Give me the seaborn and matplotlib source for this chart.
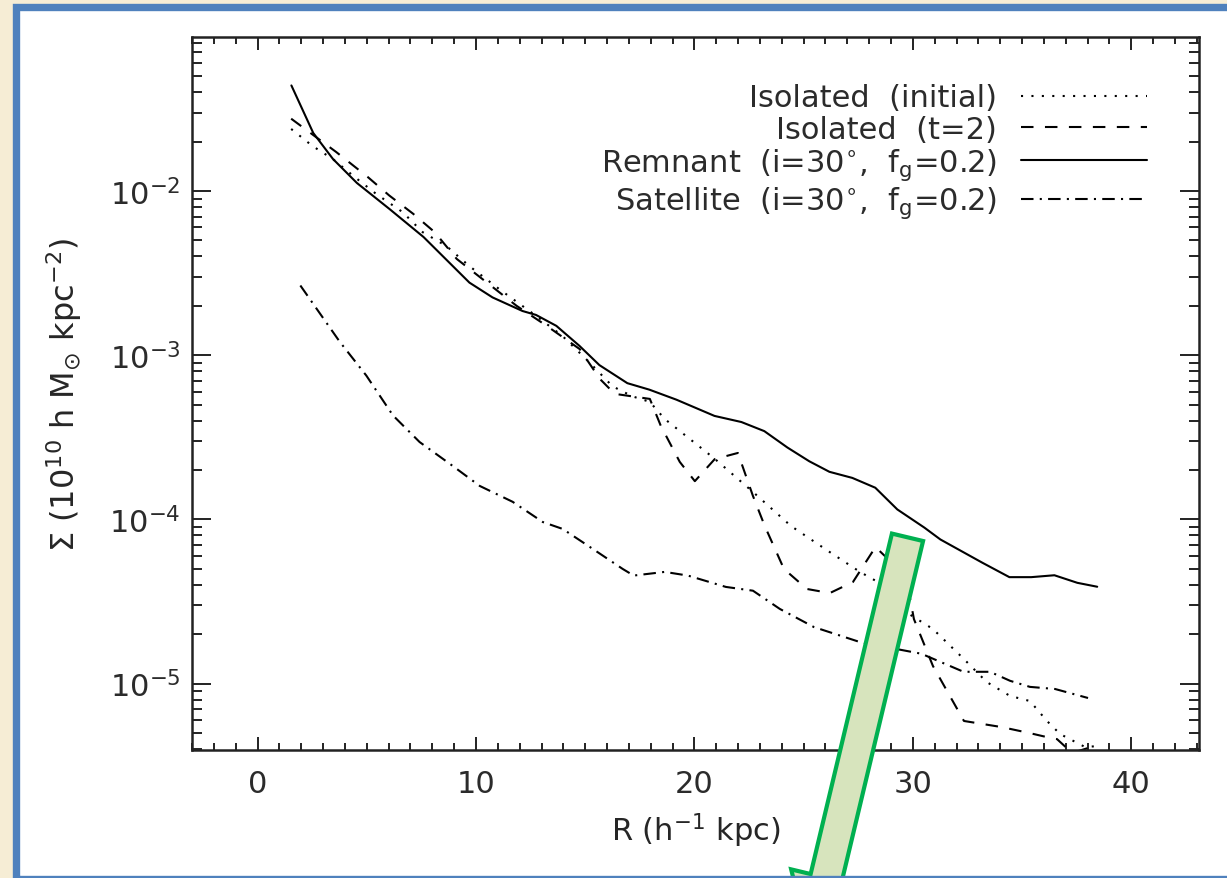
import numpy as np
import pandas as pd
import matplotlib
matplotlib.use("Agg")
import matplotlib.pyplot as plt
import seaborn as sns
from matplotlib.patches import Rectangle, FancyArrow
from matplotlib.ticker import MultipleLocator, LogLocator, NullFormatter

# ---------------- data ----------------
remnant_r = [1.55, 2.55, 3.45, 4.55, 6.05, 7.6, 9.7, 10.76, 12.13, 12.75, 13.68, 14.74,
             15.65, 16.93, 17.94, 19.18, 20.92, 22.15, 23.2, 24.26, 25.26, 26.18, 27.23,
             28.28, 29.29, 30.53, 31.26, 33.18, 34.42, 35.42, 36.48, 37.53, 38.44]
remnant_sigma = [4.40e-2, 2.26e-2, 1.57e-2, 1.12e-2, 7.76e-3, 5.25e-3, 2.77e-3, 2.25e-3,
                 1.86e-3, 1.76e-3, 1.51e-3, 1.14e-3, 8.71e-4, 6.76e-4, 6.17e-4, 5.36e-4,
                 4.27e-4, 3.92e-4, 3.45e-4, 2.74e-4, 2.26e-4, 1.95e-4, 1.79e-4, 1.56e-4,
                 1.15e-4, 8.91e-5, 7.55e-5, 5.45e-5, 4.45e-5, 4.45e-5, 4.57e-5, 4.11e-5, 3.89e-5]

initial_r = [1.54, 2.52, 3.44, 4.44, 5.44, 6.64, 7.56, 8.65, 9.7, 11.08, 12.77, 13.96,
             15.19, 16.25, 17.16, 17.96, 18.64, 20.93, 22.68, 24.42, 26.2, 27.58, 28.31,
             29.68, 30.92, 32.34, 33.39, 34.45, 35.36, 36.14, 36.74, 37.88, 38.57]
initial_sigma = [2.39e-2, 1.88e-2, 1.57e-2, 1.22e-2, 9.59e-3, 7.45e-3, 5.62e-3, 4.62e-3,
                 3.49e-3, 2.52e-3, 1.73e-3, 1.31e-3, 9.06e-4, 6.47e-4, 5.62e-4, 5.20e-4,
                 4.09e-4, 2.34e-4, 1.47e-4, 9.12e-5, 6.32e-5, 4.79e-5, 4.22e-5, 2.73e-5,
                 2.15e-5, 1.41e-5, 1.02e-5, 8.41e-6, 7.83e-6, 5.92e-6, 4.93e-6, 4.11e-6, 4.17e-6]

t2_r = [1.54, 3.6, 5.04, 6.03, 7.12, 8.11, 9.12, 11.86, 13.24, 14.75, 15.67, 16.35, 17.96,
        18.46, 19.33, 20.02, 20.93, 21.99, 22.68, 23.22, 24.1, 25.15, 26.2, 27.26, 28.29,
        29.0, 29.68, 30.05, 30.92, 32.34, 34.08, 35.36, 36.14, 36.6, 37.1, 37.43, 38.02]
t2_sigma = [2.76e-2, 1.73e-2, 1.22e-2, 9.40e-3, 7.28e-3, 5.62e-3, 3.86e-3, 2.00e-3, 1.51e-3,
            1.09e-3, 7.18e-4, 5.82e-4, 5.42e-4, 3.72e-4, 2.24e-4, 1.71e-4, 2.33e-4, 2.54e-4,
            1.39e-4, 9.12e-5, 4.99e-5, 3.77e-5, 3.56e-5, 4.16e-5, 6.79e-5, 5.51e-5, 4.52e-5,
            2.47e-5, 1.28e-5, 5.92e-6, 5.43e-6, 4.99e-6, 4.72e-6, 4.59e-6, 3.99e-6, 3.83e-6, 4.05e-6]

satellite_r = [1.96, 3.76, 4.98, 6.2, 7.42, 8.93, 10.17, 11.68, 13.06, 13.97, 15.35, 16.72,
               17.22, 18.64, 19.7, 21.44, 22.68, 23.91, 25.47, 27.58, 30.39, 32.32, 33.53,
               34.45, 35.36, 36.51, 38.02]
satellite_sigma = [2.66e-3, 1.21e-3, 7.52e-4, 4.30e-4, 2.96e-4, 2.12e-4, 1.60e-4, 1.28e-4,
                   9.64e-5, 8.75e-5, 6.61e-5, 4.99e-5, 4.55e-5, 4.79e-5, 4.55e-5, 3.88e-5,
                   3.68e-5, 2.85e-5, 2.21e-5, 1.79e-5, 1.52e-5, 1.18e-5, 1.18e-5, 1.04e-5,
                   9.55e-6, 9.27e-6, 8.17e-6]

labels = ["Isolated  (initial)",
          "Isolated  (t=2)",
          r"Remnant  (i=30$^{\circ}$,  f$_{\rm g}$=0.2)",
          r"Satellite  (i=30$^{\circ}$,  f$_{\rm g}$=0.2)"]
x_ticks = [0, 10, 20, 30, 40]

# ---------------- style ----------------
sns.set_theme(style="white")
plt.rcParams["font.family"] = ["DejaVu Sans"]
plt.rcParams["mathtext.fontset"] = "dejavusans"
plt.rcParams["text.color"] = "#2b2b2b"

W, H = 1227, 879
fig = plt.figure(figsize=(W / 100, H / 100), dpi=100)
fig.patch.set_facecolor("#F6EDD5")

# slide frame: white panel
fig.patches.append(Rectangle((15.7 / W, -1.0 / H), (1240 - 15.7) / W, (879 - 7.5 + 1) / H,
                             transform=fig.transFigure, facecolor="white", edgecolor="none",
                             zorder=-5))

ax = fig.add_axes([192 / W, 1 - 751 / H, (1199 - 192) / W, (751 - 38) / H])
ax.set_facecolor("none")

data = pd.concat([
    pd.DataFrame({"R": initial_r, "Sigma": initial_sigma, "set": labels[0]}),
    pd.DataFrame({"R": t2_r, "Sigma": t2_sigma, "set": labels[1]}),
    pd.DataFrame({"R": remnant_r, "Sigma": remnant_sigma, "set": labels[2]}),
    pd.DataFrame({"R": satellite_r, "Sigma": satellite_sigma, "set": labels[3]}),
])

styles = {labels[0]: (0, (1, 4)),
          labels[1]: (0, (6, 5.5)),
          labels[2]: "-",
          labels[3]: (0, (6, 3, 1, 3))}

for lab in labels:
    sub = data[data["set"] == lab]
    sns.lineplot(data=sub, x="R", y="Sigma", ax=ax, color="black", linewidth=1.5,
                 linestyle=styles[lab], label=lab, sort=False, estimator=None)

ax.set_yscale("log")
ax.set_xlim(-3, 43.1)
ax.set_ylim(3.94e-6, 8.68e-2)

ax.xaxis.set_major_locator(plt.FixedLocator(x_ticks))
ax.xaxis.set_minor_locator(MultipleLocator(1))
ax.yaxis.set_major_locator(LogLocator(base=10, numticks=20))
ax.yaxis.set_minor_locator(LogLocator(base=10, subs=np.arange(2, 10), numticks=40))
ax.yaxis.set_minor_formatter(NullFormatter())

for s in ax.spines.values():
    s.set_linewidth(1.8)
    s.set_color("#222222")
ax.tick_params(which="both", direction="in", top=True, right=True, bottom=True, left=True,
               color="#222222", width=1.4, labelsize=22, labelcolor="#2b2b2b")
ax.tick_params(axis="x", which="major", length=9.4, pad=14)
ax.tick_params(axis="x", which="minor", length=5)
ax.tick_params(axis="y", which="major", length=13.7, pad=8)
ax.tick_params(axis="y", which="minor", length=7.2)

ax.set_xlabel(r"R (h$^{-1}$ kpc)", fontsize=22)
ax.set_ylabel(r"$\Sigma$ (10$^{10}$ h M$_{\odot}$ kpc$^{-2}$)", fontsize=23)
ax.xaxis.set_label_coords(0.5, -0.085)
ax.yaxis.set_label_coords(-0.107, 0.5)

leg = ax.legend(loc="upper right", bbox_to_anchor=(0.948, 0.935), frameon=False,
                markerfirst=False, fontsize=22, handlelength=4.1, handletextpad=0.8,
                labelspacing=0.08, borderpad=0, borderaxespad=0)
for t in leg.get_texts():
    t.set_color("#2b2b2b")

# green callout arrow (slide annotation)
x0, y0 = 907.5, 538.3
ux, uy = -0.2323, 0.9727
L = 420
arrow = FancyArrow(x0 / 100, (H - y0) / 100, ux * L / 100, -uy * L / 100,
                   width=0.32, head_width=0.72, head_length=0.7, length_includes_head=True,
                   transform=fig.dpi_scale_trans, facecolor="#D7E4BD", edgecolor="#00B050",
                   linewidth=3.0, zorder=10, joinstyle="miter")
fig.patches.append(arrow)

# blue border drawn over everything
fig.patches.append(Rectangle((15.7 / W, -1.0 / H), (1240 - 15.7) / W, (879 - 7.5 + 1) / H,
                             transform=fig.transFigure, facecolor="none", edgecolor="#4F81BD",
                             linewidth=5.3, zorder=20))

fig.savefig("out.png", dpi=100, facecolor=fig.get_facecolor())
